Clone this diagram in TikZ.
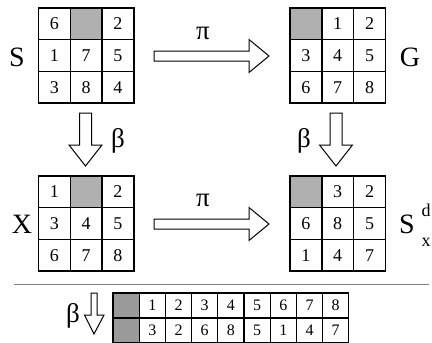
\documentclass[tikz,border=0pt]{standalone}
\usepackage{fontspec}
\setmainfont{Liberation Serif}
\definecolor{cellgray}{HTML}{B0B0B0}
\definecolor{tabgray}{HTML}{9A9A9A}
\definecolor{rulegray}{HTML}{808080}
\tikzset{
  cell/.style={draw=black, line width=1.4pt, minimum width=31.8pt, minimum height=31.7pt, inner sep=0pt, font=\fontsize{18}{18}\selectfont},
  tcell/.style={draw=black, line width=1.2pt, minimum width=26.2pt, minimum height=25pt, inner sep=0pt, font=\fontsize{16}{16}\selectfont},
  hollow/.style={draw=black, fill=white, line width=1pt, line join=miter},
  biglabel/.style={font=\fontsize{28}{28}\selectfont, inner sep=0pt},
  greek/.style={font=\fontsize{27}{27}\selectfont, inner sep=0pt},
  sublabel/.style={font=\fontsize{18}{18}\selectfont, inner sep=0pt}
}
\newcommand\puzzle[5]{%
  \foreach \v [count=\i from 0] in {#5} {
    \pgfmathtruncatemacro\cx{mod(\i,3)}
    \pgfmathtruncatemacro\cy{div(\i,3)}
    \ifnum\i=#4\relax\def\cf{cellgray}\else\def\cf{white}\fi
    \node[cell, fill=\cf] (#1-\i) at ({#2+(\cx+0.5)*31.8},{#3+(\cy+0.5)*31.7}) {\v};
  }}
\newcommand\tabrow[4]{%
  \foreach \v [count=\i from 0] in {#4} {
    \ifnum\i=0\relax\def\cf{tabgray}\else\def\cf{white}\fi
    \node[tcell, fill=\cf] (#1-\i) at ({#2+(\i+0.5)*26.2},{#3+12.5}) {\v};
  }}
\newcommand\harrow[3]{% x start, x tip, y center
  \draw[hollow] (#1,#3-5) -- (#2-20,#3-5) -- (#2-20,#3-16.5) -- (#2,#3) -- (#2-20,#3+16.5) -- (#2-20,#3+5) -- (#1,#3+5) -- cycle;}
\newcommand\varrow[5]{% x center, y start, y tip, half shaft, half head
  \draw[hollow] (#1-#4,#2) -- (#1+#4,#2) -- (#1+#4,#3-21) -- (#1+#5,#3-21) -- (#1,#3) -- (#1-#5,#3-21) -- (#1-#4,#3-21) -- cycle;}
\begin{document}
\begin{tikzpicture}[x=1pt,y=-1pt]
\useasboundingbox (0,0) rectangle (432,343);
% grids
\puzzle{s}{38.5}{8}{1}{6,{},2,1,7,5,3,8,4}
\puzzle{g}{290}{8}{0}{{},1,2,3,4,5,6,7,8}
\puzzle{x}{38.5}{176}{1}{1,{},2,3,4,5,6,7,8}
\puzzle{d}{290}{176}{0}{{},3,2,6,8,5,1,4,7}
% labels
\node[biglabel] (lS) at (17,57) {S};
\node[biglabel] (lG) at (410,57) {G};
\node[biglabel] (lX) at (22,224) {X};
\node[biglabel] (lSd) at (407,224) {S};
\node[sublabel] (ld) at (426,210) {d};
\node[sublabel] (lx) at (426,242) {x};
% arrows
\harrow{154}{269}{56}
\harrow{154}{269}{224}
\node[greek] (p1) at (203,33) {π};
\node[greek] (p2) at (203,200) {π};
\varrow{85.5}{113}{166}{6}{16.5}
\varrow{336}{113}{166}{6}{16.5}
\node[greek] (b1) at (118,141) {β};
\node[greek] (b2) at (304,141) {β};
% rule
\draw[rulegray, line width=1pt] (14,284) -- (429,284);
% bottom
\draw[hollow] (91,293) -- (97,293) -- (97,315) -- (104,315) -- (94,334) -- (84.5,315) -- (91,315) -- cycle;
\node[greek] (b3) at (73,316) {β};
\tabrow{t}{113}{293}{{},1,2,3,4,5,6,7,8}
\tabrow{u}{113}{318}{{},3,2,6,8,5,1,4,7}
\end{tikzpicture}
\end{document}
